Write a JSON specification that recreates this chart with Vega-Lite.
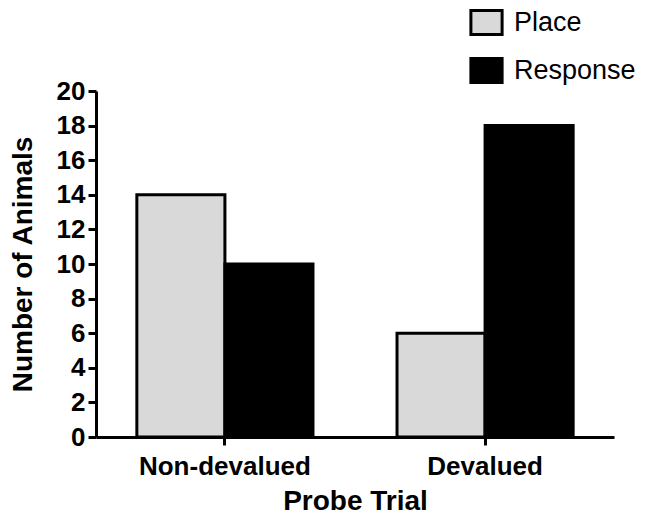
{
  "$schema": "https://vega.github.io/schema/vega-lite/v6.json",
  "autosize": {"type": "none"},
  "padding": {"left": 96, "top": 91, "right": 38, "bottom": 77},
  "width": 518,
  "height": 346,
  "background": "white",
  "config": {
    "view": {"stroke": null},
    "font": "Liberation Sans"
  },
  "data": {
    "values": [
      {"trial": "Non-devalued", "type": "Place", "count": 14},
      {"trial": "Non-devalued", "type": "Response", "count": 10},
      {"trial": "Devalued", "type": "Place", "count": 6},
      {"trial": "Devalued", "type": "Response", "count": 18}
    ]
  },
  "mark": {"type": "bar", "stroke": "black", "strokeWidth": 3, "opacity": 1},
  "encoding": {
    "x": {
      "field": "trial",
      "type": "nominal",
      "sort": ["Non-devalued", "Devalued"],
      "scale": {"paddingInner": 0.323, "paddingOuter": 0.157},
      "axis": {
        "title": "Probe Trial",
        "labelAngle": 0,
        "labelFont": "Liberation Sans",
        "labelFontSize": 26,
        "labelFontWeight": "bold",
        "labelColor": "black",
        "labelPadding": 8,
        "titleFont": "Liberation Sans",
        "titleFontSize": 28,
        "titleFontWeight": "bold",
        "titleColor": "black",
        "titlePadding": 8,
        "domainColor": "black",
        "domainWidth": 3,
        "tickColor": "black",
        "tickWidth": 3,
        "tickSize": 8,
        "grid": false
      }
    },
    "xOffset": {
      "field": "type",
      "type": "nominal",
      "sort": ["Place", "Response"],
      "scale": {"paddingInner": 0, "paddingOuter": 0}
    },
    "y": {
      "field": "count",
      "type": "quantitative",
      "scale": {"domain": [0, 20], "nice": false},
      "axis": {
        "title": "Number of Animals",
        "values": [0, 2, 4, 6, 8, 10, 12, 14, 16, 18, 20],
        "labelFont": "Liberation Sans",
        "labelFontSize": 26,
        "labelFontWeight": "bold",
        "labelColor": "black",
        "labelPadding": 3,
        "titleFont": "Liberation Sans",
        "titleFontSize": 28,
        "titleFontWeight": "bold",
        "titleColor": "black",
        "titlePadding": 19,
        "domainColor": "black",
        "domainWidth": 3,
        "tickColor": "black",
        "tickWidth": 3,
        "tickSize": 8,
        "grid": false
      }
    },
    "fill": {
      "field": "type",
      "type": "nominal",
      "sort": ["Place", "Response"],
      "scale": {"domain": ["Place", "Response"], "range": ["#d9d9d9", "black"]},
      "legend": {
        "title": null,
        "orient": "none",
        "legendX": 377,
        "legendY": -82,
        "padding": 0,
        "symbolType": "M-1.3,-1H1.3V1H-1.3Z",
        "symbolSize": 576,
        "symbolStrokeColor": "black",
        "symbolStrokeWidth": 3,
        "symbolOpacity": 1,
        "labelFont": "Liberation Sans",
        "labelFontSize": 27,
        "labelColor": "black",
        "labelOffset": 14,
        "rowPadding": 11
      }
    }
  }
}
